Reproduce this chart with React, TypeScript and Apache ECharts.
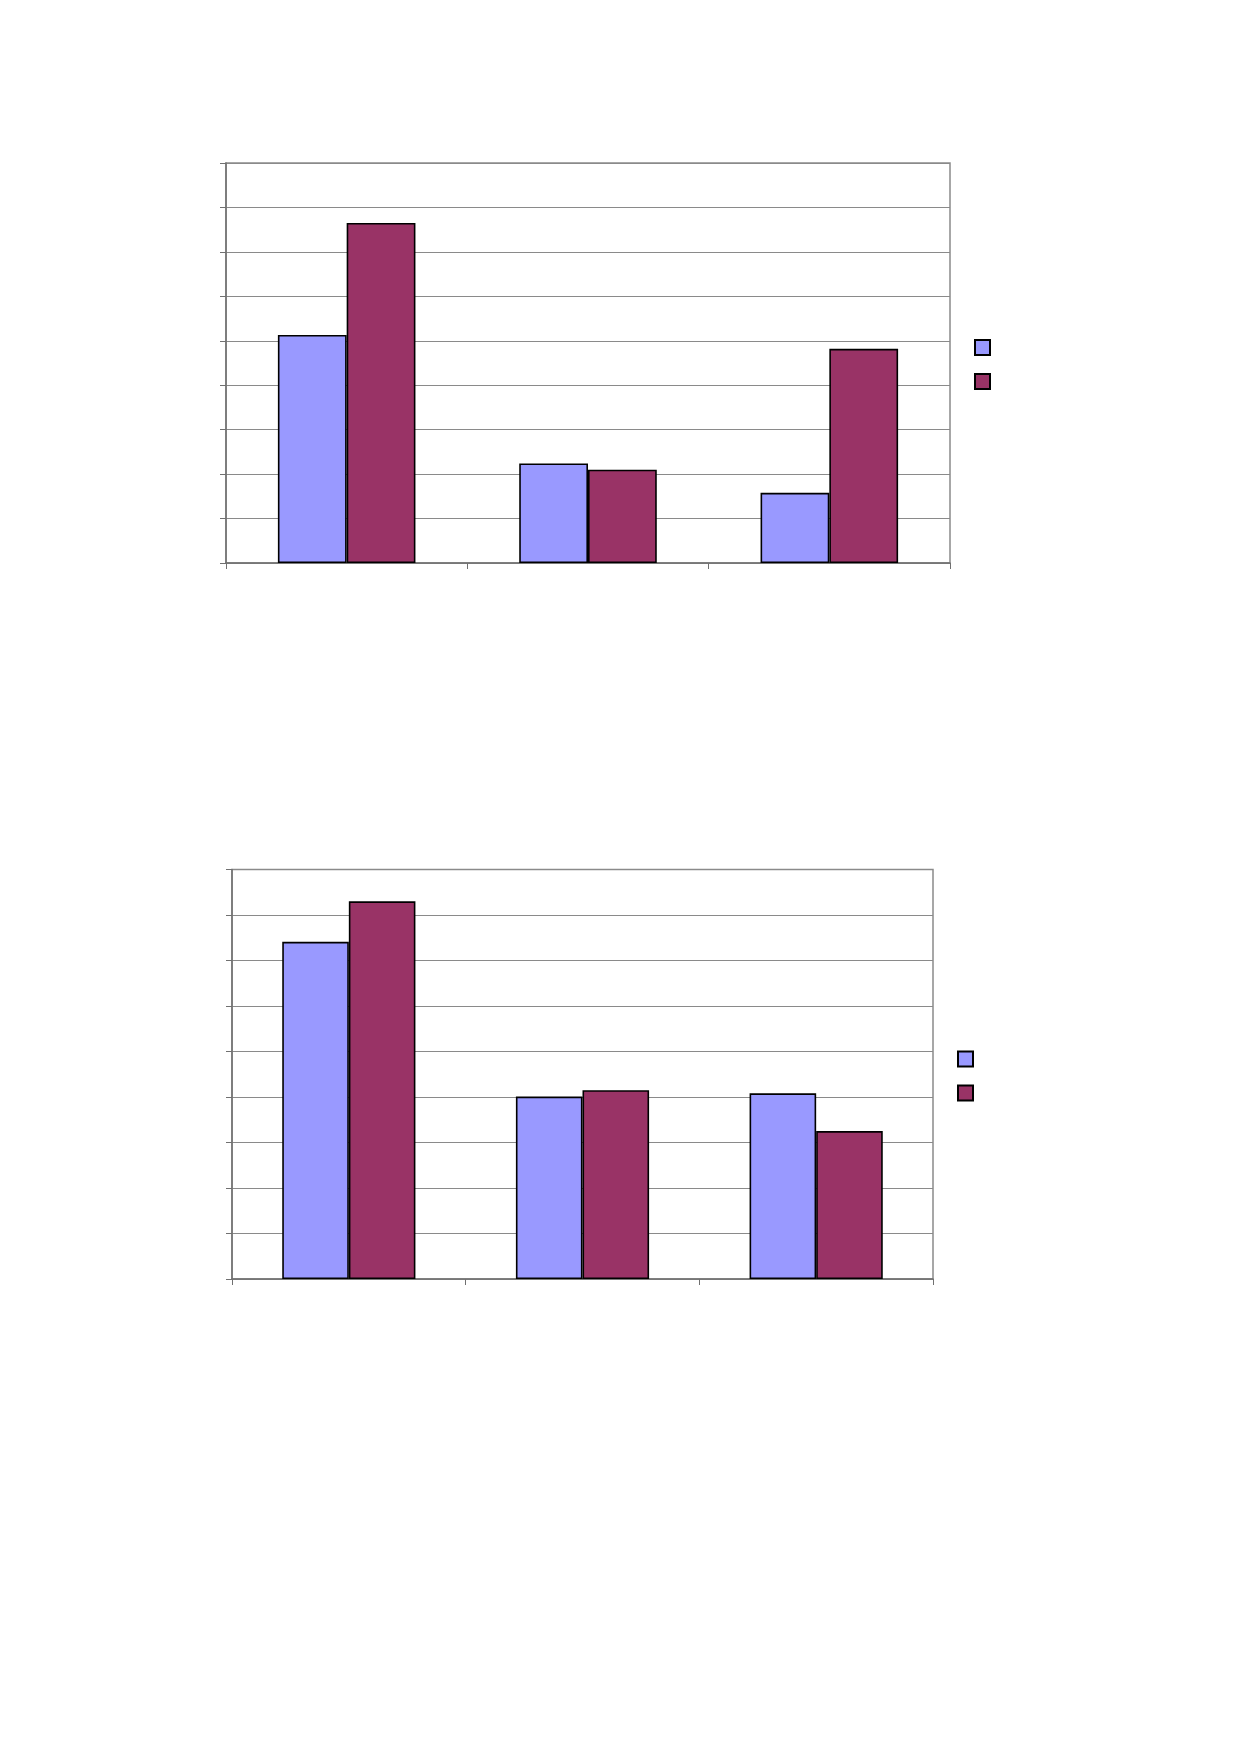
import React, { useEffect, useRef } from "react";
import * as echarts from "echarts";

const categories = ["1", "2", "3"];
const seriesNames = ["Series 1", "Series 2"];
const chart1Blue = [5.13, 2.24, 1.58];
const chart1Maroon = [7.65, 2.1, 4.82];
const chart2Blue = [7.41, 4.01, 4.08];
const chart2Maroon = [8.3, 4.15, 3.25];
const yTicks = { min: 0, max: 9, interval: 1 };

const BLUE = "#9999FF";
const MAROON = "#993366";

export default function App() {
  const ref = useRef<HTMLDivElement>(null);
  useEffect(() => {
    if (!ref.current) return;
    const chart = echarts.init(ref.current, undefined, { renderer: "svg" });
    const xAxisCommon = {
      type: "category",
      data: categories,
      axisLine: { show: true, lineStyle: { color: "#707070", width: 1.5 } },
      axisTick: { show: true, alignWithLabel: false, length: 6, lineStyle: { color: "#707070" } },
      axisLabel: { show: false },
      splitLine: { show: false },
    };
    const yAxisCommon = {
      type: "value",
      min: yTicks.min,
      max: yTicks.max,
      interval: yTicks.interval,
      axisLine: { show: true, lineStyle: { color: "#707070", width: 1.5 } },
      axisTick: { show: true, length: 6, lineStyle: { color: "#707070" } },
      axisLabel: { show: false },
      splitLine: { show: true, lineStyle: { color: "#8a8a8a", width: 1 } },
    };
    const barCommon = {
      type: "bar",
      barGap: "0%",
      barCategoryGap: "43%",
      itemStyle: { borderColor: "#000", borderWidth: 1.6 },
    };
    const legendCommon = {
      data: seriesNames,
      orient: "vertical",
      padding: 0,
      itemWidth: 15,
      itemHeight: 15,
      itemGap: 17,
      icon: "rect",
      selectedMode: false,
      textStyle: { fontSize: 9, lineHeight: 12 },
      formatter: () => "",
    };
    chart.setOption({
      animation: false,
      backgroundColor: "#ffffff",
      grid: [
        { left: 226, top: 163, width: 724, height: 400, show: true, borderColor: "#8a8a8a", borderWidth: 1.5, backgroundColor: "transparent" },
        { left: 232, top: 869.5, width: 701, height: 409.5, show: true, borderColor: "#8a8a8a", borderWidth: 1.5, backgroundColor: "transparent" },
      ],
      xAxis: [
        { ...xAxisCommon, gridIndex: 0 },
        { ...xAxisCommon, gridIndex: 1 },
      ],
      yAxis: [
        { ...yAxisCommon, gridIndex: 0 },
        { ...yAxisCommon, gridIndex: 1 },
      ],
      legend: [
        { ...legendCommon, left: 974, top: 339 },
        { ...legendCommon, left: 957, top: 1050.5 },
      ],
      series: [
        { ...barCommon, name: seriesNames[0], xAxisIndex: 0, yAxisIndex: 0, data: chart1Blue, itemStyle: { ...barCommon.itemStyle, color: BLUE } },
        { ...barCommon, name: seriesNames[1], xAxisIndex: 0, yAxisIndex: 0, data: chart1Maroon, itemStyle: { ...barCommon.itemStyle, color: MAROON } },
        { ...barCommon, name: seriesNames[0], xAxisIndex: 1, yAxisIndex: 1, data: chart2Blue, itemStyle: { ...barCommon.itemStyle, color: BLUE } },
        { ...barCommon, name: seriesNames[1], xAxisIndex: 1, yAxisIndex: 1, data: chart2Maroon, itemStyle: { ...barCommon.itemStyle, color: MAROON } },
      ],
    });
    return () => chart.dispose();
  }, []);
  return (
    <div
      ref={ref}
      style={{ position: "absolute", left: 0, top: 0, width: 1239, height: 1754, background: "#fff" }}
    />
  );
}
